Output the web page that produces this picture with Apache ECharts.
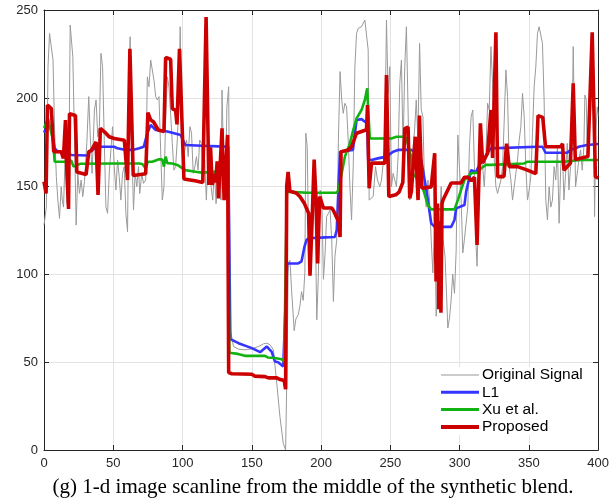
<!DOCTYPE html>
<html><head><meta charset="utf-8">
<script src="https://cdn.jsdelivr.net/npm/echarts@6/dist/echarts.min.js"></script>
<style>html,body{margin:0;padding:0;background:#fff}#c{width:612px;height:504px}</style>
</head><body><div id="c"></div>
<script>
var xTicks = [0, 50, 100, 150, 200, 250, 300, 350, 400];
var yTicks = [0, 50, 100, 150, 200, 250];
var seriesNames = ['Original Signal', 'L1', 'Xu et al.', 'Proposed'];
var caption = '(g) 1-d image scanline from the middle of the synthetic blend.';

var origX = [0,0.5,1.7,2.9,4,5.3,6.5,7.7,8.9,10,11.2,12.4,13.2,14.1,15.3,16.5,17.7,18.9,19.9,20.8,22,23.2,24.4,25.6,26.8,28,29.2,30.9,32.3,33.3,34.7,36.4,37.6,38.8,40,41.1,42.3,43.5,44.7,45.9,47.1,48.3,49.5,50.7,51.9,53.1,54.3,55.5,56.7,57.9,59.1,60.3,61.5,62.2,63.4,64.6,65.8,67,68.2,69.1,70.6,71.8,73.4,74.6,75.8,77,78.2,79.4,80.6,81.8,83,84.2,85.4,86.6,87.8,89,90.2,91.4,92.6,93.8,95,96.2,97.4,98.3,99.3,100.2,101.7,102.9,104.1,105.3,106.5,107.7,108.9,110,111.2,112.4,113.6,114.8,116,117.2,118.4,119.4,120.6,121.8,123,124.2,125.4,126.6,127.8,128.5,129.7,130.9,132,133.3,134.5,136.8,140.4,145,150,154.8,158.4,160.8,163.2,165.6,168,170.3,172.7,174.4,175.6,176.3,177.5,178.7,180.6,181.8,183.5,184.7,185.9,187.1,188.3,189,190,190.9,192.8,194.5,195.7,196.9,198,199.3,200.5,201.7,202.9,204,205.3,206.5,207.7,208.9,210,211.3,212.5,213.7,214.9,216,217.2,218.4,219.6,220.8,222,223.2,224.4,225.6,226.8,229.2,231.6,232.8,234,234.7,235.9,237.6,239.3,240.7,242.4,243.6,244.8,246,247.2,248.4,249.6,250.8,252,253.2,254.4,255.6,256.8,258,259.2,260.4,261.6,262.8,264,265.1,266.3,267.5,268.7,269.9,271.1,272.3,273.5,274.7,275.9,277.1,278.3,279.5,280.7,282,283.1,284.5,286.7,288,289.5,291.5,292.7,293.9,295,296.3,297.5,298.7,299.9,301.1,302.3,303.5,304.7,305.9,307.1,308.3,309.5,310.7,311.9,312.6,314.3,315.4,316.6,317.8,319,320.2,321.4,322.6,323.8,325,326.2,327.4,328.6,329.8,331,332.2,333.4,334.6,335.8,337,338.2,339.4,340.6,341.8,343,344.2,345.4,346.6,347.8,349,350.2,351.4,352.6,353.8,355,356.2,357.4,358.6,359.8,361,362.2,363.4,364.6,365.8,367,368.2,369.4,370.6,371.8,373,374.2,375.3,376.5,377.7,378.9,380.1,381.3,382,383,383.7,384.9,386.1,387.3,388.5,389.7,390.4,391.4,392.1,393.3,394.5,395.7,396.4,397.4,398.3,399.3,400];
var origY = [128,130.7,138,217.8,236.7,236.7,221.6,180,155.3,142,131.6,149.6,142,138,168.6,140,138,241.5,241.5,223.5,178,127.8,157.2,145.8,153.4,144,152.5,174.2,200.8,180,157.2,193.2,198.9,178,183.7,225.4,217.8,176,138,134.5,157.2,170.5,183.7,161,147.7,164.8,155.3,142,157.2,161,134.5,124,217.8,234.8,172.3,136.4,157.2,149.6,161,145.8,157.2,151.5,153.4,212,206.4,221.6,222.5,210,200.8,198.9,200.8,170.5,142,149.6,187.5,212,206.4,191.3,174.2,159,161,176.1,198.9,240.5,189.4,164.8,170.5,176.1,166.7,183.7,180,157.2,161,166.7,159,176.1,174.2,157.2,164.8,142,166.7,157.2,149.6,142,159,140,155.3,149.6,142,204.5,161,142,195,206.4,68.3,58.8,57.3,56.9,57.5,58.8,60.3,60.7,59.8,56.9,38,19,3.8,0,57,106,107.8,91,67.8,74.4,76.8,81.6,90,85,101,180,172,123,110,149.6,134.5,74,98,147.7,144,97,112,132.6,134.5,136.4,119.3,84.4,110,119.3,176,215,198.9,191.3,197,195,176,149.6,130.7,161,217.8,236.7,239.6,240.5,244.3,244.3,227.3,142,141,144,161,153.4,149.6,153.4,153.4,172.3,244.3,202.7,217.8,149.6,157.2,153.4,149.6,166.7,208.3,221.6,170.5,217.8,240.5,193.2,142,149.6,170.5,181.8,198.9,176,231,193.2,189.4,149.6,138,153.4,142,119.3,100.6,130,76,113,149.6,120,110,69.3,75,85.4,100,89,113,179,179,142,112,120,129,138,172.3,189.4,193.2,161,115.5,104.4,155.3,164.8,161,149.6,168.6,197,193.2,229.2,208.3,164.8,149.6,145.8,149.6,153.4,161,187.5,216,200.8,161,153.4,142,149.6,157.2,164.8,176,183.7,202.7,189.4,161,142,147.7,155.3,180,206.4,217.8,236.7,240.5,239.6,231,198.9,142,130.7,149.6,138,142,161,153.4,172.3,128.8,161,170.5,142,157.2,174.2,147.7,161,189.4,229.2,180,149.6,157.2,164.8,170.5,159,172.3,201.7,198.9,172.3,185.6,191.3,227.3,233,132.6,180,195,190];

var l1X = [0,2.9,5.3,7.7,10,17.2,19.6,31.6,32.8,38.8,50.7,53,59,63.9,68.7,72,74.6,77,80.6,89,92.6,98.6,102,114,126,133,133.5,134.5,135,140.4,150,156,160.8,164.4,166.7,169,172.7,174,175.5,183.5,185.9,188,189.5,191,203,210,211.3,213.7,223,225.6,229.2,231.6,233.3,234,236.4,241,247.2,252,255.6,265,268.7,272.3,276,279.5,282,293.9,296.3,297.5,303.5,304.7,308.3,311.9,314.3,317.8,320,322.6,356,359.8,362,377.7,380,383.7,386,392,400];
var l1Y = [180.3,184.7,182,171.4,169.5,169,167.6,167.3,169.5,172.3,172.3,171.4,170.5,170.5,171.4,172.3,180,184.7,181.8,181,180.3,179,173.3,172.9,172.5,172.3,172,63,62.6,60.7,57.9,55.6,58.8,55.8,50.3,49.8,47.4,47.8,106,106,107.2,115.5,119.3,120.3,120.8,121,125,169.5,170.5,187.5,188,186.5,186,165,164.8,165.7,166.7,169.5,170.5,170.5,169.5,164.8,147.7,128.8,126.8,126.8,130.7,137.3,139.2,146.8,159,158,162,165.7,168.6,171.4,172.3,172.3,168.9,168.9,170.5,171.4,172.3,173.3,173.9];

var xuX = [0,2.9,4,6.5,7.7,16,19.6,21.3,24.4,26,50.7,68.7,71,73.4,75,78.2,83,85.4,86.6,87.8,89,92.6,96.2,102,110.5,114,126,133,133.8,135,140,145,159.5,161.5,166.7,171.5,173.4,174.5,175.3,190,211.3,212.5,214.9,217.2,220.8,223.2,225.6,229.2,231.6,233.3,234,235.2,250.8,254.4,259.2,261.6,265,266.3,271,273.5,277,279.5,296.3,298.7,301,303.5,308.3,313,315.4,319,322.6,346.6,349,375.3,387.3,400];
var xuY = [183,188.4,188,176,163.8,163.8,164.5,161,162,162.6,162.8,162.8,162.5,160,163.8,163.8,165.2,165,161,166.7,163,162.8,162,159,158,157.6,158,157.5,55.3,55,54.6,53.5,53.5,52.6,52.3,51.6,50.3,50,146.8,146.2,146.2,147.7,157.2,166.7,174.2,181.8,188.4,193.2,198.9,205.5,193.2,177,177,178,178,177,166.7,157.2,152.5,148.7,139.2,136.7,136.7,142,147.7,153.4,157.2,157.6,160,162,162,162.8,163.8,163.8,164.8,164.8];

var propX = [0,1.5,2.5,5.3,7,12.4,14,15.5,16.2,17.7,18.4,22.7,23.7,30.4,32.3,34,37.6,39,40.7,44,47,50.7,58,60.3,62,63,64.4,73.4,75,77,79,82.5,86.6,87.8,91.4,92.6,95,96,97.8,101,109,114.6,117,119,120.2,121.4,123,124,125,126,128.5,130,132.5,133.3,135.6,150,152,159.5,162,168,170.5,173.4,174.4,175.2,176.2,177.5,182,184.7,188,191,192,193.5,195,196.5,197.5,199,201.7,207.7,209,212.5,213.7,214.4,219.6,222,225.6,232.8,233.5,234.7,236.4,246,247.2,248.9,254,256.4,259,260.4,262.8,264,265.2,268,270,271,272.8,279.5,282,283,284,285,286,286.5,287.3,288,289,293.9,301,303.5,306,308.3,310.7,312.6,315,316.6,317.8,320.2,322.6,323.8,326.2,327.4,332,333.9,335.8,341.8,345.4,349,355,356.6,360,362,373,374.3,375.3,380,381,382,383.5,392.6,393.8,395.7,398,400];
var propY = [152.5,145.8,196,194,169.5,169.5,165.7,187.5,165,137,191,190,158,156.5,169.5,170,175,144.9,182.8,180.5,178,177,176,153.4,228,228,156,157,191.7,187.5,186.5,181.8,181,223,222,194,193,185,228,154,153,152,246,150.6,172,150.6,157,152,164,143,182.8,142,179,44,43.3,43,42,41.7,41,41,40,39.5,34.5,150,158,147,146,144,140,134.5,99,130,165,140,106,144,137.5,137.5,136,130,121,169.5,170.5,172.3,180,182,196,148.7,163,163,213,144,145,146.6,152,182.6,183.5,143,147,178,142,190,148.7,149.5,168.6,95.8,140,80,130,78,140,142,141,151.7,151.7,155,155,153,155,116.5,185.6,163,165,168.6,193.2,166,237.3,155.3,155.3,174,161,161,160,159,157,190,189,172.3,172.3,174,159,163,163,208.3,165,166.7,167.5,237.3,155.3,154.5];

function pairs(xs, ys) { return xs.map(function (x, i) { return [x, ys[i]]; }); }

var axisCol = '#262626';
var chart = echarts.init(document.getElementById('c'), null, {renderer: 'canvas'});
var xBase = {type: 'value', min: 0, max: 400, interval: 50,
  axisLine: {show: true, onZero: false, lineStyle: {color: axisCol, width: 1}},
  axisTick: {show: true, inside: true, length: 5, lineStyle: {color: axisCol}}};
var yBase = {type: 'value', min: 0, max: 250, interval: 50,
  axisLine: {show: true, onZero: false, lineStyle: {color: axisCol, width: 1}},
  axisTick: {show: true, inside: true, length: 5, lineStyle: {color: axisCol}}};
chart.setOption({
  animation: false,
  backgroundColor: '#ffffff',
  grid: {left: 44, right: 11, top: 10, bottom: 54, containLabel: false},
  title: {text: caption, left: 313, top: 477, textAlign: 'center', padding: 0,
    textStyle: {fontFamily: 'Liberation Serif', fontSize: 21, fontWeight: 'normal', color: '#000'}},
  xAxis: [
    Object.assign({}, xBase, {position: 'bottom',
      axisLabel: {show: true, margin: 7, color: axisCol, fontFamily: 'Liberation Sans', fontSize: 13},
      splitLine: {show: true, lineStyle: {color: '#e3e3e3', width: 1}}}),
    Object.assign({}, xBase, {position: 'top', axisLabel: {show: false}, splitLine: {show: false}})
  ],
  yAxis: [
    Object.assign({}, yBase, {position: 'left',
      axisLabel: {show: true, margin: 6, color: axisCol, fontFamily: 'Liberation Sans', fontSize: 13},
      splitLine: {show: true, lineStyle: {color: '#e3e3e3', width: 1}}}),
    Object.assign({}, yBase, {position: 'right', axisLabel: {show: false}, splitLine: {show: false}})
  ],
  legend: {
    orient: 'vertical', left: 441, top: 367, padding: [0, 4, 0, 0],
    itemWidth: 38, itemHeight: 4, itemGap: 1.3,
    backgroundColor: '#ffffff',
    textStyle: {fontFamily: 'Liberation Sans', fontSize: 15.5, color: '#000', lineHeight: 15, padding: [0, 0, 0, -2]},
    data: [
      {name: seriesNames[0], icon: 'path://M0,0h38v1h-38z'},
      {name: seriesNames[1], icon: 'path://M0,0h38v3h-38z'},
      {name: seriesNames[2], icon: 'path://M0,0h38v3h-38z'},
      {name: seriesNames[3], icon: 'path://M0,0h38v4h-38z'}
    ]
  },
  series: [
    {name: seriesNames[0], type: 'line', data: pairs(origX, origY), showSymbol: false,
      lineStyle: {color: '#9a9a9a', width: 1}, itemStyle: {color: '#9a9a9a'}, z: 2},
    {name: seriesNames[1], type: 'line', data: pairs(l1X, l1Y), showSymbol: false,
      lineStyle: {color: '#3535ff', width: 2.6}, itemStyle: {color: '#3535ff'}, z: 3},
    {name: seriesNames[2], type: 'line', data: pairs(xuX, xuY), showSymbol: false,
      lineStyle: {color: '#12b212', width: 2.6}, itemStyle: {color: '#12b212'}, z: 4},
    {name: seriesNames[3], type: 'line', data: pairs(propX, propY), showSymbol: false,
      lineStyle: {color: '#cc0000', width: 3.6}, itemStyle: {color: '#cc0000'}, z: 5}
  ]
});
</script></body></html>
